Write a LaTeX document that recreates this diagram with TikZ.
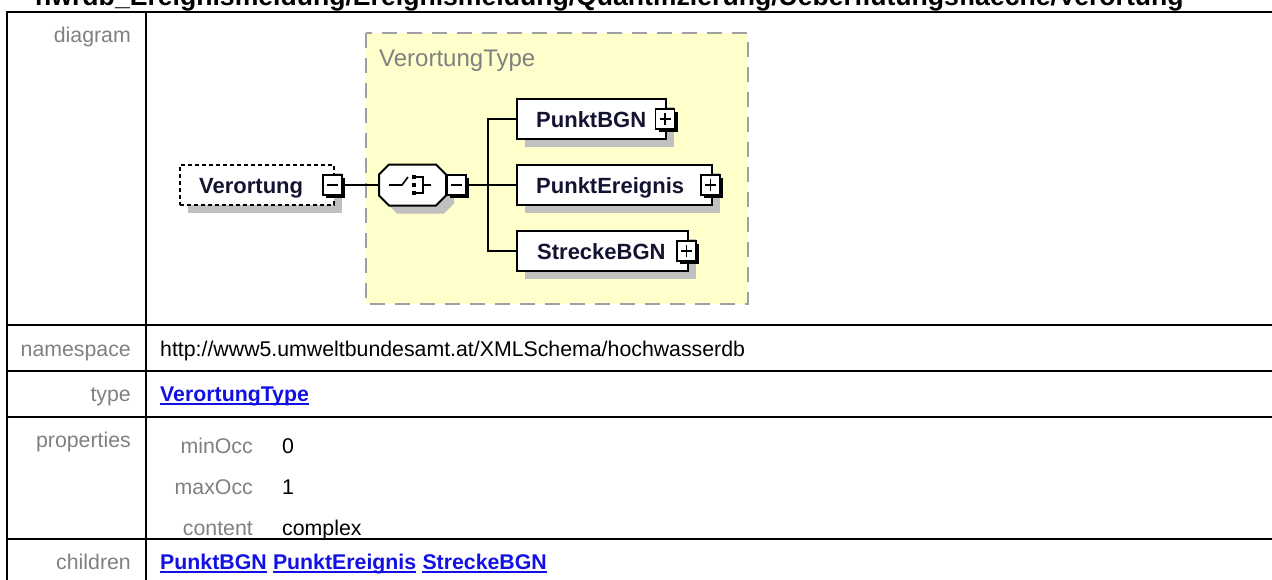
\documentclass[tikz,border=0pt]{standalone}
\usepackage{fontspec}
\setmainfont{Liberation Sans}
\usetikzlibrary{shadows}
\definecolor{yel}{RGB}{255,255,204}
\definecolor{dgray}{RGB}{160,160,160}
\definecolor{shd}{RGB}{192,192,192}
\definecolor{lbl}{RGB}{128,128,128}
\definecolor{linkc}{RGB}{17,17,230}
\definecolor{namec}{RGB}{20,20,50}
\begin{document}
\begin{tikzpicture}[x=1pt,y=-1pt,
 tbl/.style={line width=2.5pt},
 lab/.style={anchor=base east,inner sep=0pt,text=lbl,font=\fontsize{21.3}{25}\selectfont},
 val/.style={anchor=base west,inner sep=0pt,text=black,font=\fontsize{21.3}{25}\selectfont},
 lnk/.style={anchor=base west,inner sep=0pt,text=linkc,font=\fontsize{21.3}{25}\selectfont\bfseries},
 ulin/.style={linkc,line width=1.8pt},
 elbox/.style={draw=black,line width=2pt,fill=white,inner sep=0pt,minimum height=40pt,general shadow={fill=shd,shadow xshift=8pt,shadow yshift=-8pt}},
 optbox/.style={elbox,dash pattern=on 4pt off 3pt,line width=1.6pt},
 nm/.style={anchor=base west,inner sep=0pt,text=namec,font=\fontsize{22}{26}\selectfont\bfseries},
 pmbox/.style={draw=black,line width=1.6pt,fill=white,inner sep=0pt,minimum width=19pt,minimum height=20pt,general shadow={fill=black,shadow xshift=3pt,shadow yshift=-3pt}},
 pmline/.style={line width=1.6pt},
 conn/.style={line width=1.8pt},
 typebox/.style={fill=yel,draw=dgray,line width=2pt,dash pattern=on 15pt off 10pt},
]
\useasboundingbox (0,0) rectangle (1272,579);

% title (cut by the top edge)
\node[anchor=base west,inner sep=0pt,font=\fontsize{26.6}{30}\selectfont\bfseries] (title) at (35,5)
  {hwrdb\_Ereignismeldung/Ereignismeldung/Quantifizierung/Ueberflutungsflaeche/Verortung};

% table
\draw[tbl] (7,600) -- (7,12) -- (1280,12);
\draw[tbl] (146,12) -- (146,600);
\foreach \yy in {325,371,417,539} \draw[tbl] (7,\yy) -- (1280,\yy);

\node[lab] (ldiag) at (131,42) {diagram};
\node[lab] (lns) at (131,356) {namespace};
\node[lab] (ltype) at (131,401) {type};
\node[lab] (lprop) at (131,447) {properties};
\node[lab] (lchild) at (131,569) {children};

\node[val] (vns) at (160,356) {http://www5.umweltbundesamt.at/XMLSchema/hochwasserdb};
\node[lnk] (vtype) at (160,401) {VerortungType};
\draw[ulin] ([yshift=-3pt]vtype.base west) -- ([yshift=-3pt]vtype.base east);

\node[lab] (lmin) at (253,453) {minOcc};
\node[val] (vmin) at (282,453) {0};
\node[lab] (lmax) at (253,494) {maxOcc};
\node[val] (vmax) at (282,494) {1};
\node[lab] (lcont) at (253,535) {content};
\node[val] (vcont) at (282,535) {complex};

\node[lnk] (c1) at (160,569) {PunktBGN};
\node[lnk] (c2) at ([xshift=5.9pt]c1.base east) {PunktEreignis};
\node[lnk] (c3) at ([xshift=5.9pt]c2.base east) {StreckeBGN};
\foreach \c in {c1,c2,c3}
  \draw[ulin] ([yshift=-3pt]\c.base west) -- ([yshift=-3pt]\c.base east);

% diagram: complex type box
\path[typebox] (366,33) rectangle (748,304);
\node[anchor=base west,inner sep=0pt,text=lbl,font=\fontsize{24}{28}\selectfont] (tlabel) at (379,66) {VerortungType};

% element Verortung (optional)
\node[optbox,minimum width=154pt] (verbox) at (257,185) {};
\node[nm] (vertext) at (199,193) {Verortung};
\node[pmbox] (verm) at (332.5,185) {};
\draw[pmline] ([xshift=-5.5pt]verm.center) -- ([xshift=5.5pt]verm.center);

% choice compositor
\node[inner sep=0pt,minimum width=67pt,minimum height=41pt] (seq) at (412.5,185) {};
\fill[shd] (387,182.5) -- (397,172.5) -- (444,172.5) -- (454,182.5) -- (454,203.5) -- (444,213.5) -- (397,213.5) -- (387,203.5) -- cycle;
\draw[line width=2pt,fill=white] (379,174.5) -- (389,164.5) -- (436,164.5) -- (446,174.5) -- (446,195.5) -- (436,205.5) -- (389,205.5) -- (379,195.5) -- cycle;
\draw[line width=1.6pt] (389,185) -- (402,185) -- (408,177);
\foreach \yy in {177,185,193} \fill (411.5,\yy-2.3) rectangle (416,\yy+2.3);
\draw[line width=1.6pt] (416,177) -- (423,177) -- (423,193) -- (416,193);
\draw[line width=1.6pt] (423,185) -- (431,185);
\node[pmbox] (seqm) at (456.5,185) {};
\draw[pmline] ([xshift=-5.5pt]seqm.center) -- ([xshift=5.5pt]seqm.center);

% children elements
\node[elbox,minimum width=149pt] (p1) at (591.5,119) {};
\node[nm] (p1t) at (536,127) {PunktBGN};
\node[pmbox] (p1m) at (665,119) {};
\draw[pmline] ([xshift=-5.5pt]p1m.center) -- ([xshift=5.5pt]p1m.center);
\draw[pmline] ([yshift=-6pt]p1m.center) -- ([yshift=6pt]p1m.center);

\node[elbox,minimum width=195pt] (p2) at (614.5,185) {};
\node[nm] (p2t) at (536,193) {PunktEreignis};
\node[pmbox] (p2m) at (710.5,185) {};
\draw[pmline] ([xshift=-5.5pt]p2m.center) -- ([xshift=5.5pt]p2m.center);
\draw[pmline] ([yshift=-6pt]p2m.center) -- ([yshift=6pt]p2m.center);

\node[elbox,minimum width=171pt] (p3) at (602.5,251) {};
\node[nm] (p3t) at (537,259) {StreckeBGN};
\node[pmbox] (p3m) at (686.5,251) {};
\draw[pmline] ([xshift=-5.5pt]p3m.center) -- ([xshift=5.5pt]p3m.center);
\draw[pmline] ([yshift=-6pt]p3m.center) -- ([yshift=6pt]p3m.center);

% connectors
\coordinate (bus) at (488,185);
\draw[conn] (verm.east) -- (seq.west);
\draw[conn] (seqm.east) -- (bus);
\draw[conn] (bus) |- (p1.west);
\draw[conn] (bus) -- (p2.west);
\draw[conn] (bus) |- (p3.west);
\end{tikzpicture}
\end{document}
